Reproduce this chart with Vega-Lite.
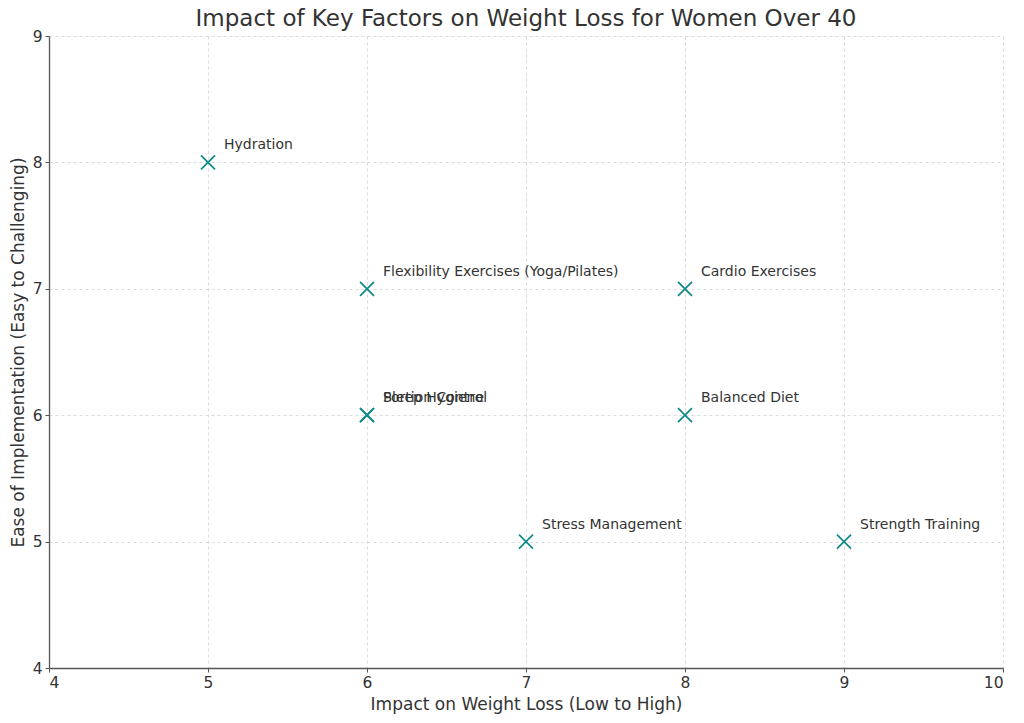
{
  "$schema": "https://vega.github.io/schema/vega-lite/v6.json",
  "autosize": {"type": "none"},
  "width": 954,
  "height": 632,
  "padding": {"left": 49, "top": 36, "right": 21, "bottom": 55},
  "background": "white",
  "config": {
    "font": "DejaVu Sans",
    "view": {"stroke": null},
    "axis": {
      "labelFont": "DejaVu Sans",
      "titleFont": "DejaVu Sans",
      "labelFontSize": 15.5,
      "titleFontSize": 17,
      "labelColor": "#333333",
      "titleColor": "#333333",
      "titleFontWeight": "normal",
      "domainColor": "#555555",
      "domainWidth": 1.3,
      "tickColor": "#555555",
      "tickSize": 4,
      "gridColor": "#d0d0d0",
      "gridDash": [3, 3],
      "gridWidth": 0.8
    }
  },
  "title": {
    "text": "Impact of Key Factors on Weight Loss for Women Over 40",
    "font": "DejaVu Sans",
    "fontSize": 23,
    "fontWeight": "normal",
    "color": "#333333",
    "offset": -2
  },
  "data": {
    "values": [
      {"factor": "Hydration", "impact": 5, "ease": 8},
      {"factor": "Flexibility Exercises (Yoga/Pilates)", "impact": 6, "ease": 7},
      {"factor": "Cardio Exercises", "impact": 8, "ease": 7},
      {"factor": "Sleep Hygiene", "impact": 6, "ease": 6},
      {"factor": "Portion Control", "impact": 6, "ease": 6},
      {"factor": "Balanced Diet", "impact": 8, "ease": 6},
      {"factor": "Stress Management", "impact": 7, "ease": 5},
      {"factor": "Strength Training", "impact": 9, "ease": 5}
    ]
  },
  "encoding": {
    "x": {
      "field": "impact",
      "type": "quantitative",
      "scale": {"domain": [4, 10], "nice": false, "zero": false},
      "axis": {"title": "Impact on Weight Loss (Low to High)", "values": [4, 5, 6, 7, 8, 9, 10], "titlePadding": 6, "labelPadding": 3}
    },
    "y": {
      "field": "ease",
      "type": "quantitative",
      "scale": {"domain": [4, 9], "nice": false, "zero": false},
      "axis": {"title": "Ease of Implementation (Easy to Challenging)", "values": [4, 5, 6, 7, 8, 9], "titlePadding": 5, "labelPadding": 3}
    }
  },
  "layer": [
    {
      "mark": {
        "type": "point",
        "shape": "M-1,-1L1,1M-1,1L1,-1",
        "filled": false,
        "size": 196,
        "strokeWidth": 1.7,
        "color": "#108a88",
        "opacity": 1
      }
    },
    {
      "mark": {
        "type": "text",
        "align": "left",
        "baseline": "middle",
        "dx": 16,
        "dy": -17,
        "fontSize": 14,
        "font": "DejaVu Sans",
        "color": "#333333"
      },
      "encoding": {"text": {"field": "factor"}}
    }
  ]
}
